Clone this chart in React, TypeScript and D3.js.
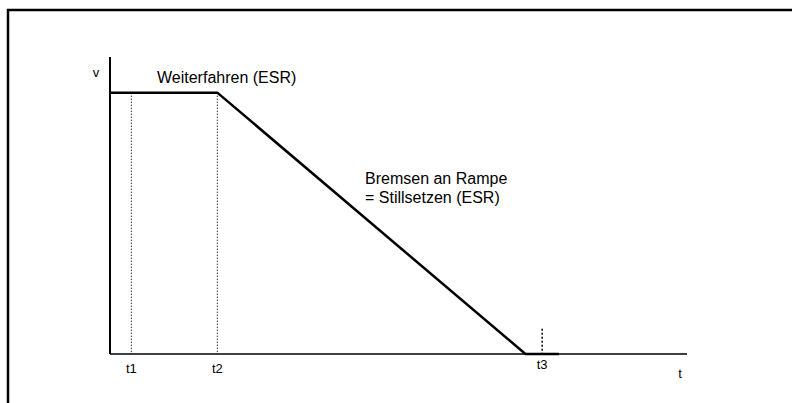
import React from "react";
import * as d3 from "d3";

const W = 792;
const H = 403;

// speed profile (time units, speed %)
const profileT = [0, 18.6, 72.0, 77.8];
const profileV = [88, 88, 0, 0];

// time marks
const markNames = ["t1", "t2", "t3"];
const markT = [3.7, 18.6, 74.9];

const axisLabels = ["v", "t"];
const phaseLabel1 = ["Weiterfahren (ESR)"];
const phaseLabel2 = ["Bremsen an Rampe", "= Stillsetzen (ESR)"];

export default function App() {
  const x = d3.scaleLinear().domain([0, 100]).range([110, 687]);
  const y = d3.scaleLinear().domain([0, 100]).range([354, 57]);
  const pts: [number, number][] = profileT.map((t, i) => [t, profileV[i]]);
  const line = d3
    .line<[number, number]>()
    .x((d) => x(d[0]))
    .y((d) => y(d[1]));
  const font = "Arial, 'Liberation Sans', sans-serif";
  return (
    <svg
      width={W}
      height={H}
      style={{ position: "absolute", left: 0, top: 0, background: "#fff" }}
      fontFamily={font}
    >
      <rect x={0} y={0} width={W} height={H} fill="#fff" />
      <rect x={8} y={10} width={W + 20} height={H + 20} fill="none" stroke="#000" strokeWidth={2.5} />
      {/* dotted time marks */}
      {markT.map((t, i) =>
        i < 2 ? (
          <line
            key={i}
            x1={x(t)}
            x2={x(t)}
            y1={y(87)}
            y2={y(0)}
            stroke="#333"
            strokeWidth={1}
            strokeDasharray="1.5,1.5"
          />
        ) : (
          <line
            key={i}
            x1={x(t)}
            x2={x(t)}
            y1={y(8.5)}
            y2={y(0)}
            stroke="#000"
            strokeWidth={1.5}
            strokeDasharray="2,2"
          />
        )
      )}
      {/* axes */}
      <line x1={x(0)} x2={x(0)} y1={y(100)} y2={y(0)} stroke="#000" strokeWidth={2} />
      <line x1={x(0)} x2={x(100)} y1={y(0)} y2={y(0)} stroke="#000" strokeWidth={1.5} />
      {/* profile */}
      <path d={line(pts) || ""} fill="none" stroke="#000" strokeWidth={2.5} />
      {/* labels */}
      <text x={x(0) - 14} y={y(100) + 20} fontSize={13} textAnchor="middle">
        {axisLabels[0]}
      </text>
      <text x={x(98.8)} y={y(0) + 24} fontSize={13} textAnchor="middle">
        {axisLabels[1]}
      </text>
      {markNames.map((n, i) => (
        <text key={n} x={x(markT[i])} y={y(0) + (i === 2 ? 15 : 19)} fontSize={13} textAnchor="middle">
          {n}
        </text>
      ))}
      <text x={157} y={83} fontSize={16}>
        {phaseLabel1[0]}
      </text>
      {phaseLabel2.map((s, i) => (
        <text key={i} x={365} y={184 + i * 19} fontSize={16}>
          {s}
        </text>
      ))}
    </svg>
  );
}
